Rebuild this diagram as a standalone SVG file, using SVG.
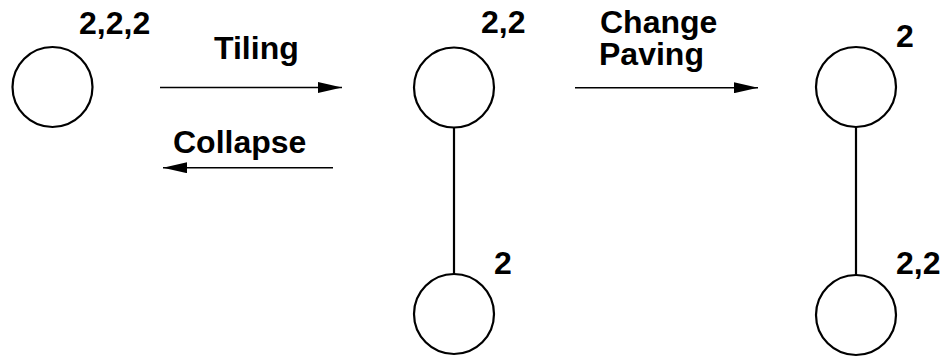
<svg xmlns="http://www.w3.org/2000/svg" width="943" height="358" viewBox="0 0 943 358">
  <style>
    .node { fill: #ffffff; stroke: #000000; stroke-width: 2.2; }
    .edge { stroke: #000000; stroke-width: 2.2; fill: none; }
    .arrow { stroke: #000000; stroke-width: 1.5; fill: none; marker-end: url(#head); }
    .lbl { font-family: "Liberation Sans", Arial, Helvetica, sans-serif; font-weight: bold; font-size: 32px; fill: #000000; }
  </style>
  <defs>
    <marker id="head" viewBox="0 0 24 11" refX="24" refY="5.5" markerWidth="24" markerHeight="11" markerUnits="userSpaceOnUse" orient="auto">
      <path d="M0,0 L24,5.5 L0,11 Z" fill="#000000"/>
    </marker>
  </defs>
  <rect width="943" height="358" fill="#ffffff"/>

  <g id="connectors">
    <line class="edge" x1="454" y1="127.5" x2="454" y2="274"/>
    <line class="edge" x1="856" y1="127" x2="856" y2="275"/>
    <line class="arrow" x1="160" y1="87.5" x2="342" y2="87.5"/>
    <line class="arrow" x1="333" y1="167.7" x2="163" y2="167.7"/>
    <line class="arrow" x1="575" y1="87.7" x2="758" y2="87.7"/>
    <text class="lbl" x="214" y="59">Tiling</text>
    <text class="lbl" x="173" y="153">Collapse</text>
    <text class="lbl" x="600" y="33">Change</text>
    <text class="lbl" x="599" y="65">Paving</text>
  </g>

  <g id="node-a">
    <circle class="node" cx="52.5" cy="87" r="40"/>
    <text class="lbl" x="79" y="34">2,2,2</text>
  </g>
  <g id="node-b-top">
    <circle class="node" cx="454" cy="87.5" r="40"/>
    <text class="lbl" x="481" y="33">2,2</text>
  </g>
  <g id="node-b-bottom">
    <circle class="node" cx="454" cy="314" r="40"/>
    <text class="lbl" x="494" y="274">2</text>
  </g>
  <g id="node-c-top">
    <circle class="node" cx="856" cy="87" r="40"/>
    <text class="lbl" x="896" y="47">2</text>
  </g>
  <g id="node-c-bottom">
    <circle class="node" cx="856" cy="315" r="40"/>
    <text class="lbl" x="896" y="274">2,2</text>
  </g>
</svg>
